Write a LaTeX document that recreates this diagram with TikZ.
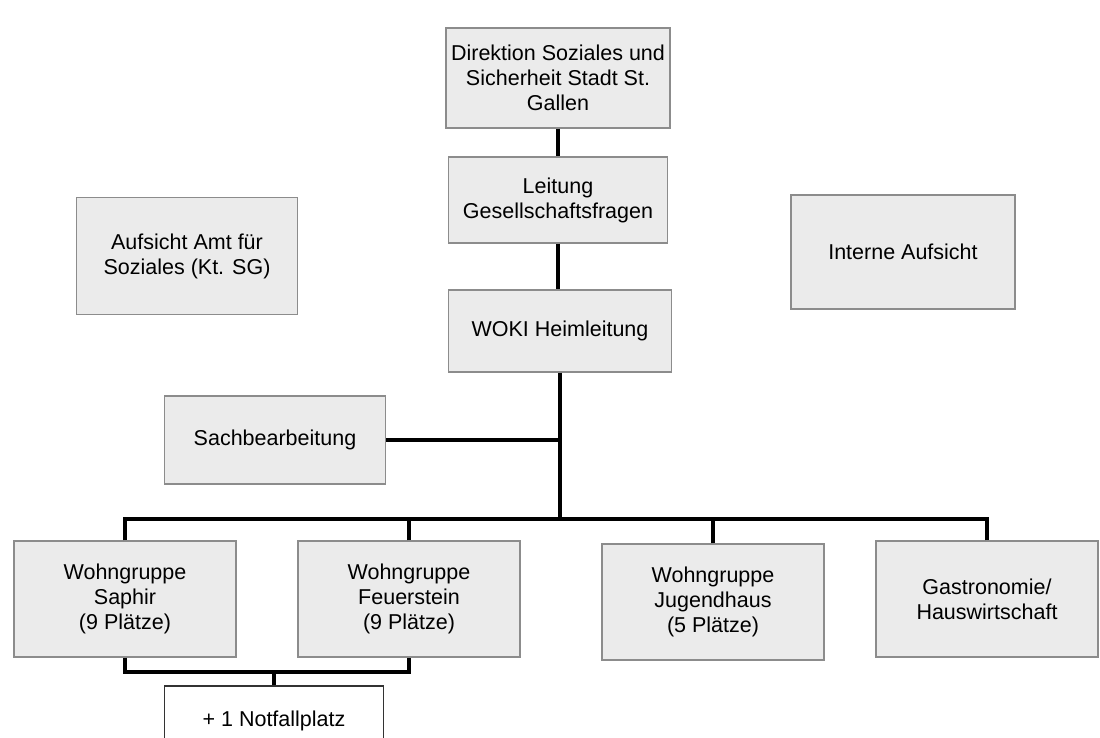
\documentclass[tikz,border=0pt]{standalone}
\usepackage{fontspec}
\setmainfont{Liberation Sans}
\definecolor{boxfill}{HTML}{EBEBEB}
\definecolor{boxline}{HTML}{8C8C8C}
\begin{document}
\begin{tikzpicture}[x=1pt,y=-1pt,
  box/.style={draw=boxline,fill=boxfill,line width=1.3pt,align=center,inner sep=0pt,
    font=\fontsize{21.5}{25}\selectfont},
  link/.style={line width=3.2pt}]
\path[use as bounding box,clip](0,0)rectangle(1100,738);
\fill[white](0,0)rectangle(1100,738);
% top chain
\node[box,minimum width=224,minimum height=100](dir)at(558,78){Direktion Soziales und\\Sicherheit Stadt St.\\Gallen};
\node[box,minimum width=219,minimum height=86](leit)at(558,200){Leitung\\Gesellschaftsfragen};
\node[box,minimum width=223,minimum height=82](woki)at(560,331){WOKI Heimleitung};
\node[box,minimum width=221,minimum height=117](amt)at(187,256){Aufsicht Amt für\\Soziales (Kt. SG)};
\node[box,minimum width=224,minimum height=114](intern)at(903,252){Interne Aufsicht};
\node[box,minimum width=221,minimum height=88](sach)at(275,440){Sachbearbeitung};
% groups
\foreach \n/\x/\y/\t in {saphir/125/599/{Wohngruppe\\Saphir\\(9 Plätze)},
  feuer/409/599/{Wohngruppe\\Feuerstein\\(9 Plätze)},
  jugend/713/602/{Wohngruppe\\Jugendhaus\\(5 Plätze)},
  gastro/987/599/{Gastronomie/\\Hauswirtschaft}}
  {\node[box,minimum width=222,minimum height=116](\n)at(\x,\y){\t};}
\node[box,fill=white,draw=black!80,minimum width=219,minimum height=66,text depth=0pt](notfall)at(274,719){+ 1 Notfallplatz};
\coordinate(bus)at(560,519);
\coordinate(join)at(274,672);
% links
\draw[link](dir)--(leit);
\draw[link](leit.south)--(leit.south|-woki.north);
\draw[link](woki.south)--(bus);
\draw[link](sach.east)--(sach.east-|woki.south);
\foreach \n in {saphir,feuer,jugend,gastro}{\draw[link](\n.north)|-(bus);}
\draw[link](saphir.south)|-(join)-|(feuer.south);
\draw[link](join)--(notfall.north);
\end{tikzpicture}
\end{document}
